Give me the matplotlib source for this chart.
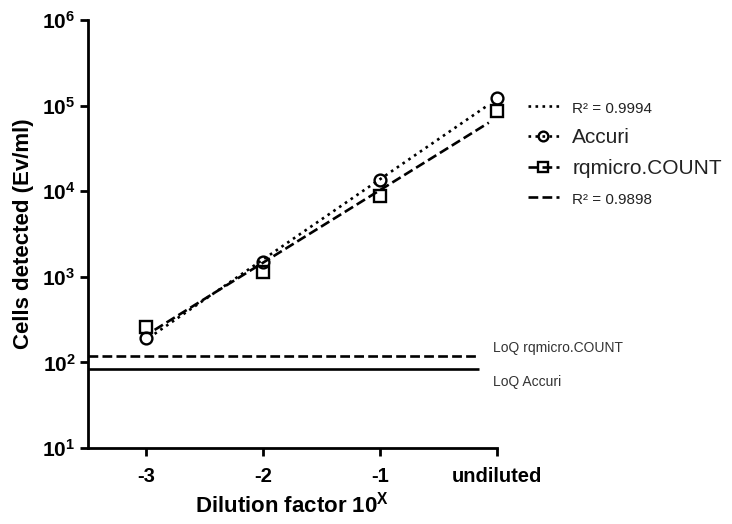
import numpy as np
import matplotlib
matplotlib.use("Agg")
import matplotlib.pyplot as plt
from matplotlib.lines import Line2D

plt.rcParams["font.family"] = ["Liberation Sans", "DejaVu Sans"]
plt.rcParams["mathtext.fontset"] = "custom"
plt.rcParams["mathtext.rm"] = "Liberation Sans"
plt.rcParams["mathtext.bf"] = "Liberation Sans:bold"

dilution = [-3, -2, -1, 0]
tick_labels = ["-3", "-2", "-1", "undiluted"]
accuri = [195, 1500, 13500, 124000]
rqmicro = [260, 1140, 8900, 87000]
loq_accuri = 83
loq_rqmicro = 120
r2_accuri = 0.9994
r2_rqmicro = 0.9898

fig = plt.figure(figsize=(7.32, 5.24), dpi=100)
ax = fig.add_axes([88 / 732, 1 - 448 / 524, (497 - 88) / 732, (448 - 20) / 524])

x = np.array(dilution, dtype=float)
xfit = np.array([-2.93, -0.07])
for vals, ls in [(accuri, ":"), (rqmicro, "--")]:
    slope, icpt = np.polyfit(x, np.log10(vals), 1)
    ax.plot(xfit, 10 ** (slope * xfit + icpt), color="black", ls=ls, lw=1.9)

ax.plot(x, accuri, ls="none", marker="o", ms=8.5, mfc="none", mec="black", mew=1.7, clip_on=False)
ax.plot(x, rqmicro, ls="none", marker="s", ms=8.5, mfc="none", mec="black", mew=1.7, clip_on=False)

ax.hlines(loq_rqmicro, -3.5, -0.15, colors="black", linestyles="--", lw=1.9)
ax.hlines(loq_accuri, -3.5, -0.15, colors="black", linestyles="-", lw=1.9)
ax.text(-0.03, loq_rqmicro * 1.02, "LoQ rqmicro.COUNT", fontsize=10, color="#333333", va="bottom")
ax.text(-0.03, loq_accuri * 0.87, "LoQ Accuri", fontsize=10, color="#333333", va="top")

ax.set_yscale("log")
ax.set_ylim(10, 1e6)
ax.set_xlim(-3.5, 0)
ax.set_xticks(dilution)
ax.set_xticklabels(tick_labels, fontsize=14.5, fontweight="bold")
yt = [10, 100, 1e3, 1e4, 1e5, 1e6]
ax.set_yticks(yt)
ax.set_yticklabels([r"$\mathbf{10^{%d}}$" % int(np.log10(v)) for v in yt], fontsize=15)
ax.minorticks_off()
ax.tick_params(width=2, length=6)
ax.tick_params(axis="x", pad=8)
ax.tick_params(axis="y", pad=3)

for s in ["top", "right"]:
    ax.spines[s].set_visible(False)
for s in ["left", "bottom"]:
    ax.spines[s].set_linewidth(2)

ax.set_ylabel("Cells detected (Ev/ml)", fontsize=16, fontweight="bold", labelpad=6)
ax.set_xlabel(r"Dilution factor 10$^{\mathbf{X}}$", fontsize=16, fontweight="bold", labelpad=4)

handles = [
    Line2D([], [], color="black", ls=":", lw=1.9),
    Line2D([], [], color="black", ls=":", lw=1.9, marker="o", ms=7, mfc="none", mew=1.7),
    Line2D([], [], color="black", ls="--", lw=1.9, marker="s", ms=7, mfc="none", mew=1.7),
    Line2D([], [], color="black", ls="--", lw=1.9),
]
labels = [f"R² = {r2_accuri}", "Accuri", "rqmicro.COUNT", f"R² = {r2_rqmicro}"]
leg = fig.legend(handles, labels, loc="upper left", bbox_to_anchor=(510 / 732, 1 - 82 / 524),
                 frameon=False, handlelength=1.6, handletextpad=0.7, labelspacing=0.62, fontsize=14)
for t, fs in zip(leg.get_texts(), [11, 15, 15, 11]):
    t.set_fontsize(fs)
    t.set_color("#222222")

fig.savefig("out.png", dpi=100)
